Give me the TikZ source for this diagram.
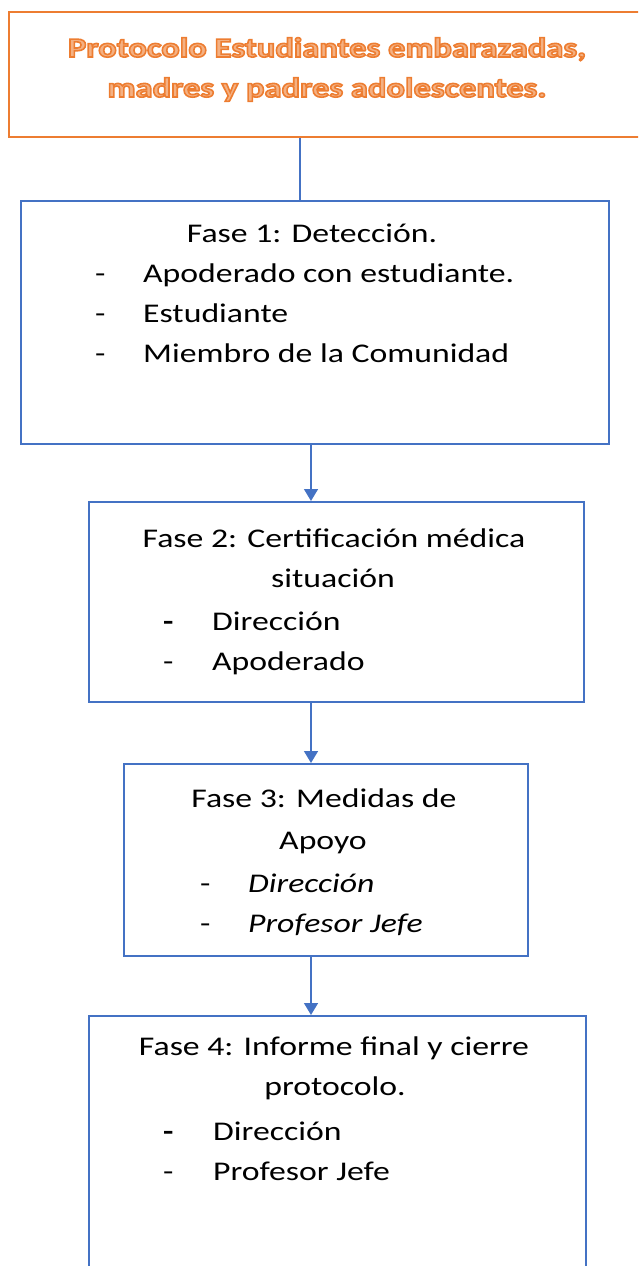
\documentclass[tikz,border=0pt]{standalone}
\usepackage{fontspec}
\setmainfont{Carlito}[FakeStretch=1.25]
\usetikzlibrary{arrows.meta}
\definecolor{bblue}{RGB}{68,114,196}
\definecolor{odark}{RGB}{237,125,49}
\definecolor{olight}{RGB}{244,177,131}
\newcommand\orangeout[1]{\textcolor{olight}{\special{pdf:literal direct 0.929 0.490 0.192 RG 1.6 w 2 Tr}#1\special{pdf:literal direct 0 Tr}}}
\newcommand\bodyfont{\fontsize{27}{40}\selectfont}
\newcommand\titlefont{\fontsize{27.6}{40}\selectfont\bfseries}
\begin{document}
\begin{tikzpicture}[x=1pt,y=-1pt,
  bbox/.style={draw=bblue, line width=1.8pt, inner sep=0, anchor=north west},
  tbox/.style={draw=odark, line width=1.8pt, inner sep=0, anchor=north west},
  txt/.style={anchor=base, inner sep=0, font=\bodyfont},
  item/.style={anchor=base west, inner sep=0, font=\bodyfont},
  ttl/.style={anchor=base, inner sep=0, font=\titlefont},
  conn/.style={draw=bblue, line width=1.5pt},
  arr/.style={draw=bblue, line width=1.5pt, -{Triangle[width=14pt,length=12pt]}}]
\useasboundingbox (0,0) rectangle (638,1266);
\clip (0,0) rectangle (638,1266);
% boxes
\node[tbox, minimum width=645, minimum height=125] (t) at (8,11) {};
\node[bbox, minimum width=588, minimum height=243] (f1) at (20,200) {};
\node[bbox, minimum width=495, minimum height=200] (f2) at (88,501) {};
\node[bbox, minimum width=404, minimum height=192] (f3) at (123,763) {};
\node[bbox, minimum width=497, minimum height=280] (f4) at (88,1015) {};
% title
\node[ttl] (t1) at (327,57) {\orangeout{Protocolo Estudiantes embarazadas,}};
\node[ttl] (t2) at (327,97) {\orangeout{madres y padres adolescentes.}};
% fase 1
\node[txt] (f1a) at (312,242) {Fase 1: Detección.};
\node[item] (f1d1) at (95,282) {-};
\node[item] (f1b) at (143,282) {Apoderado con estudiante.};
\node[item] (f1d2) at (95,322) {-};
\node[item] (f1c) at (143,322) {Estudiante};
\node[item] (f1d3) at (95,362) {-};
\node[item] (f1e) at (143,362) {Miembro de la Comunidad};
% fase 2
\node[txt] (f2a) at (334,547) {Fase 2: Certificación médica};
\node[txt] (f2b) at (333,587) {situación};
\node[item] (f2d1) at (163,630) {\textbf{-}};
\node[item] (f2c) at (212,630) {Dirección};
\node[item] (f2d2) at (163,670) {-};
\node[item] (f2e) at (212,670) {Apoderado};
% fase 3
\node[txt] (f3a) at (324,807) {Fase 3: Medidas de};
\node[txt] (f3b) at (323,849) {Apoyo};
\node[item] (f3d1) at (200,892) {-};
\node[item] (f3c) at (248,892) {\itshape Dirección};
\node[item] (f3d2) at (200,932) {-};
\node[item] (f3e) at (248,932) {\itshape Profesor Jefe};
% fase 4
\node[txt] (f4a) at (334,1055) {Fase 4: Informe final y cierre};
\node[txt] (f4b) at (335,1095) {protocolo.};
\node[item] (f4d1) at (163,1140) {\textbf{-}};
\node[item] (f4c) at (213,1140) {Dirección};
\node[item] (f4d2) at (163,1180) {-};
\node[item] (f4e) at (213,1180) {Profesor Jefe};
% connectors
\coordinate (cx) at (300,0);
\coordinate (ax) at (311,0);
\draw[conn] (t.south -| cx) -- (f1.north -| cx);
\draw[arr] (f1.south -| ax) -- (f2.north -| ax);
\draw[arr] (f2.south -| ax) -- (f3.north -| ax);
\draw[arr] (f3.south -| ax) -- (f4.north -| ax);
\end{tikzpicture}
\end{document}
